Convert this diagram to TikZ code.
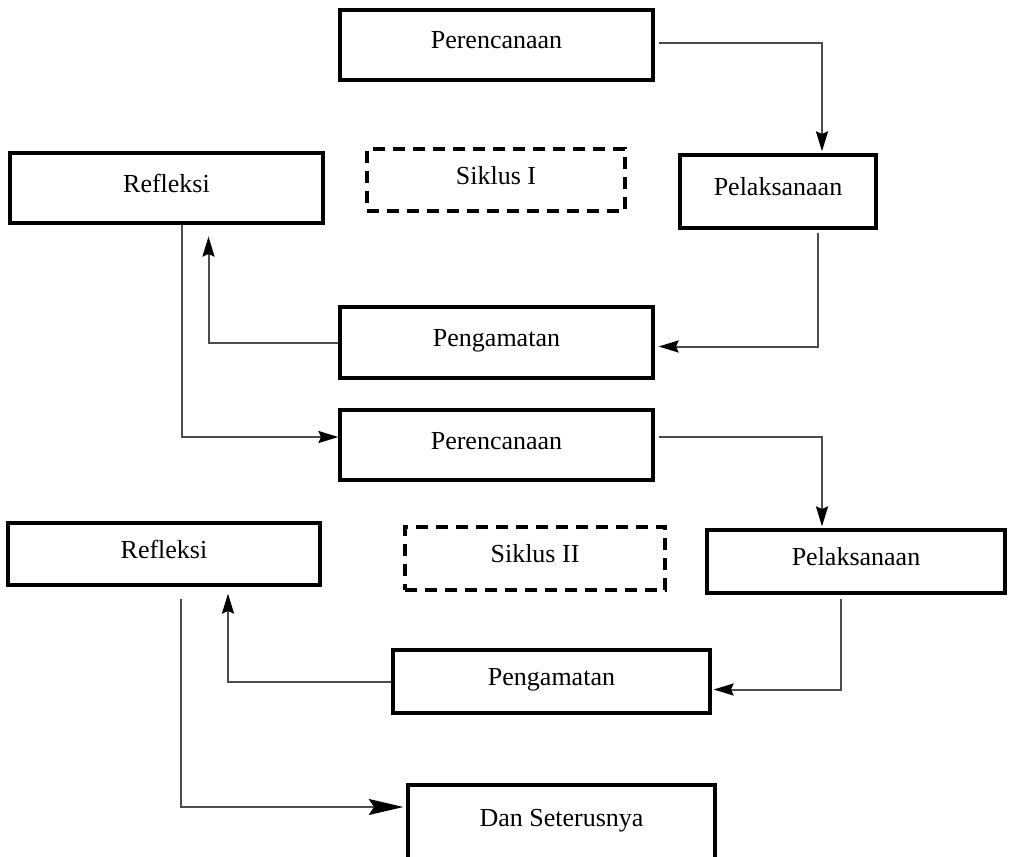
\documentclass[tikz,border=0pt]{standalone}
\usepackage{fontspec}
\setmainfont{Liberation Serif}
\usetikzlibrary{arrows.meta,calc}

\tikzset{
  stagebox/.style={draw, line width=2.4pt, inner sep=0pt, text height=13pt, text depth=7pt, font=\fontsize{19.5}{21}\selectfont},
  cyclebox/.style={draw, line width=2.4pt, dash pattern=on 9pt off 6pt, inner sep=0pt, text height=13pt, text depth=7pt, font=\fontsize{19.5}{21}\selectfont},
  flow/.style={draw=black!70, line width=1.5pt, -{Stealth[length=15pt,width=9pt,inset=2pt,black]}},
  bigflow/.style={draw=black!70, line width=1.5pt, -{Stealth[length=26pt,width=12pt,inset=4pt,black]}}
}

\begin{document}
\begin{tikzpicture}[x=0.75pt,y=0.75pt,yscale=-1,xscale=1]
    \useasboundingbox (0,0) rectangle (1009,856);

    %Siklus I
    \node [stagebox, minimum width=234.75pt, minimum height=52.5pt] (per1) at (496.5,45) {Perencanaan};
    \node [cyclebox, minimum width=193.5pt, minimum height=46.5pt] (sik1) at (496,180) {Siklus I};
    \node [stagebox, minimum width=234.75pt, minimum height=52.5pt] (ref1) at (166.5,188) {Refleksi};
    \node [stagebox, minimum width=147pt, minimum height=54.75pt] (pel1) at (778,191.5) {Pelaksanaan};
    \node [stagebox, minimum width=234.75pt, minimum height=53.25pt] (pen1) at (496.5,342.5) {Pengamatan};

    %Siklus II
    \node [stagebox, minimum width=234.75pt, minimum height=52.5pt] (per2) at (496.5,445) {Perencanaan};
    \node [cyclebox, minimum width=195pt, minimum height=47.25pt] (sik2) at (535,558.5) {Siklus II};
    \node [stagebox, minimum width=234pt, minimum height=46.5pt] (ref2) at (164,554) {Refleksi};
    \node [stagebox, minimum width=223.5pt, minimum height=47.25pt] (pel2) at (856,561.5) {Pelaksanaan};
    \node [stagebox, minimum width=237.75pt, minimum height=47.25pt] (pen2) at (551.5,681.5) {Pengamatan};
    \node [stagebox, minimum width=230.25pt, minimum height=55.5pt] (dst) at (561.5,822) {Dan Seterusnya};

    %Arrows Siklus I
    \draw [flow] ($(per1.east)+(4,-2)$) -| ($(pel1.north)+(44,-2)$);
    \draw [flow] ($(pel1.south)+(40,3)$) |- ($(pen1.east)+(4,4)$);
    \draw [flow] (pen1.west) -| ($(ref1.south)+(42,12)$);
    \draw [flow] ($(ref1.south)+(15,0)$) |- ($(per2.west)+(0,-8)$);

    %Arrows Siklus II
    \draw [flow] ($(per2.east)+(4,-8)$) -| ($(pel2.north)+(-34,-2)$);
    \draw [flow] ($(pel2.south)+(-15,4)$) |- ($(pen2.east)+(2,8)$);
    \draw [flow] (pen2.west) -| ($(ref2.south)+(64,7)$);
    \draw [bigflow] ($(ref2.south)+(17,12)$) |- ($(dst.west)+(-3,-15)$);

\end{tikzpicture}
\end{document}
